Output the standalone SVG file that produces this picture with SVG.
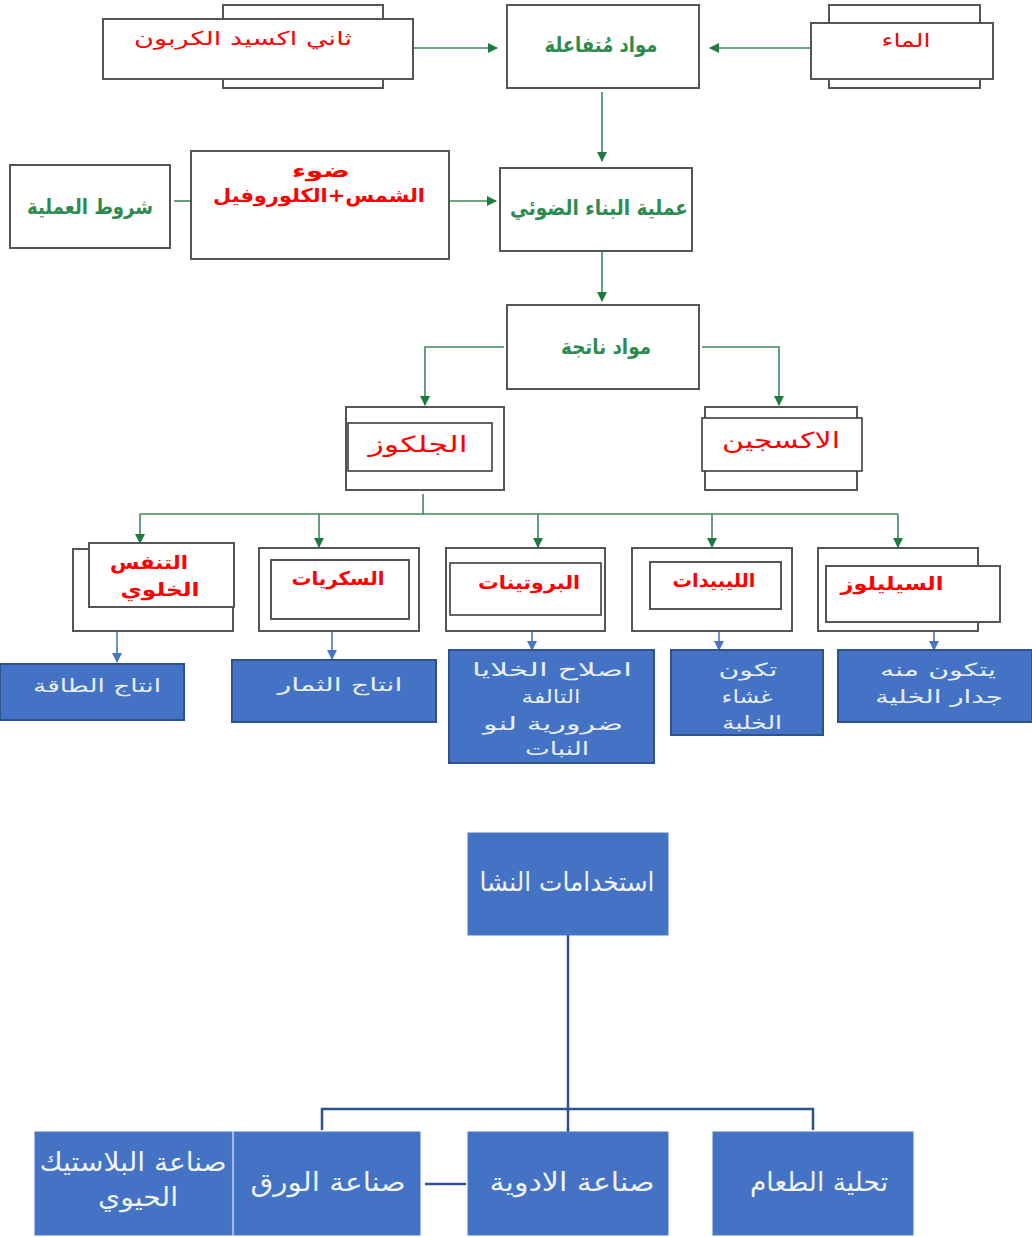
<svg xmlns="http://www.w3.org/2000/svg" width="1032" height="1237" viewBox="0 0 1032 1237">
<defs>
<style>
.box{fill:#fff;stroke:#555;stroke-width:2}
.inner{fill:#fff;stroke:#333;stroke-width:1.5}
.blue{fill:#4472c4;stroke:#2f528f;stroke-width:2}
.bluebig{fill:#4472c4;stroke:#4a76c6;stroke-width:1}
.g{stroke:#3c8a5a;stroke-width:1.6;fill:none}
.bl{stroke:#4a76c6;stroke-width:1.6;fill:none}
.db{stroke:#2f528f;stroke-width:2.5;fill:none}
text{font-family:"DejaVu Sans","Noto Sans",sans-serif;text-anchor:middle;direction:rtl}
.red{fill:#ff0000;font-size:19px}
.redb{fill:#ff0000;font-size:19px;font-weight:bold}
.grn{fill:#2e8b4f;font-size:21px;font-weight:bold}
.wh{fill:#e8eef8;font-size:18px}
.whl{fill:#f0f4fa;font-size:26px}
</style>
<marker id="ag" viewBox="0 0 10 10" refX="9" refY="5" markerWidth="10" markerHeight="10" markerUnits="userSpaceOnUse" orient="auto"><path d="M0,0 L10,5 L0,10 z" fill="#1f7a3e"/></marker>
<marker id="ab" viewBox="0 0 10 10" refX="9" refY="5" markerWidth="10" markerHeight="10" markerUnits="userSpaceOnUse" orient="auto"><path d="M0,0 L10,5 L0,10 z" fill="#4a76c6"/></marker>
</defs>
<rect width="1032" height="1237" fill="#fff"/>

<g id="connectors">
<line class="g" x1="413" y1="48" x2="497" y2="48" marker-end="url(#ag)"/>
<line class="g" x1="811" y1="48" x2="710" y2="48" marker-end="url(#ag)"/>
<line class="g" x1="602" y1="92" x2="602" y2="161" marker-end="url(#ag)"/>
<line class="g" x1="174" y1="201" x2="191" y2="201"/>
<line class="g" x1="449" y1="201" x2="496" y2="201" marker-end="url(#ag)"/>
<line class="g" x1="602" y1="252" x2="602" y2="301" marker-end="url(#ag)"/>
<polyline class="g" points="504,347 425,347 425,405" marker-end="url(#ag)"/>
<polyline class="g" points="702,347 779,347 779,405" marker-end="url(#ag)"/>
<line class="g" x1="423" y1="494" x2="423" y2="514"/>
<line class="g" x1="140" y1="514" x2="898" y2="514"/>
<line class="g" x1="140" y1="514" x2="140" y2="543" marker-end="url(#ag)"/>
<line class="g" x1="319" y1="514" x2="319" y2="547" marker-end="url(#ag)"/>
<line class="g" x1="538" y1="514" x2="538" y2="547" marker-end="url(#ag)"/>
<line class="g" x1="712" y1="514" x2="712" y2="547" marker-end="url(#ag)"/>
<line class="g" x1="898" y1="514" x2="898" y2="547" marker-end="url(#ag)"/>
<line class="bl" x1="117" y1="610" x2="117" y2="662" marker-end="url(#ab)"/>
<line class="bl" x1="332" y1="610" x2="332" y2="659" marker-end="url(#ab)"/>
<line class="bl" x1="532" y1="590" x2="532" y2="650" marker-end="url(#ab)"/>
<line class="bl" x1="719" y1="603" x2="719" y2="650" marker-end="url(#ab)"/>
<line class="bl" x1="934" y1="592" x2="934" y2="650" marker-end="url(#ab)"/>
<line class="db" x1="568" y1="935" x2="568" y2="1132"/>
<polyline class="db" points="322,1130 322,1109 813,1109 813,1130"/>
<line class="db" x1="425" y1="1184" x2="466" y2="1184"/>
</g>

<g id="co2">
<rect class="box" x="223" y="5" width="160" height="83"/>
<rect class="box" x="103" y="19" width="310" height="60"/>
<text class="red" x="243" y="45" textLength="218" lengthAdjust="spacingAndGlyphs">ثاني اكسيد الكربون</text>
</g>
<g id="reactants">
<rect class="box" x="507" y="5" width="192" height="83"/>
<text class="grn" x="601" y="52" textLength="113" lengthAdjust="spacingAndGlyphs">مواد مُتفاعلة</text>
</g>
<g id="water">
<rect class="box" x="829" y="5" width="151" height="83"/>
<rect class="box" x="811" y="23" width="182" height="56"/>
<text class="red" x="906" y="47" textLength="49" lengthAdjust="spacingAndGlyphs">الماء</text>
</g>
<g id="photosynthesis">
<rect class="box" x="500" y="168" width="192" height="83"/>
<text class="grn" x="599" y="215" textLength="178" lengthAdjust="spacingAndGlyphs">عملية البناء الضوئي</text>
</g>
<g id="conditions">
<rect class="box" x="10" y="165" width="160" height="83"/>
<text class="grn" x="90" y="214" textLength="126" lengthAdjust="spacingAndGlyphs">شروط العملية</text>
</g>
<g id="light">
<rect class="box" x="191" y="151" width="258" height="108"/>
<text class="redb" x="321" y="177" textLength="58" lengthAdjust="spacingAndGlyphs">ضوء</text>
<text class="redb" x="319" y="202" textLength="212" lengthAdjust="spacingAndGlyphs">الشمس+الكلوروفيل</text>
</g>
<g id="products">
<rect class="box" x="507" y="305" width="192" height="84"/>
<text class="grn" x="606" y="354" textLength="90" lengthAdjust="spacingAndGlyphs">مواد ناتجة</text>
</g>
<g id="glucose">
<rect class="box" x="346" y="407" width="158" height="83"/>
<rect class="inner" x="348" y="423" width="144" height="48"/>
<text class="red" x="418" y="452" style="font-size:22px" textLength="99" lengthAdjust="spacingAndGlyphs">الجلكوز</text>
</g>
<g id="oxygen">
<rect class="box" x="705" y="407" width="152" height="83"/>
<rect class="inner" x="702" y="418" width="160" height="53"/>
<text class="red" x="781" y="448" style="font-size:22px" textLength="118" lengthAdjust="spacingAndGlyphs">الاكسجين</text>
</g>

<g id="respiration">
<rect class="box" x="73" y="549" width="160" height="82"/>
<rect class="box" x="89" y="543" width="145" height="64"/>
<text class="redb" x="149" y="569" textLength="78" lengthAdjust="spacingAndGlyphs">التنفس</text>
<text class="redb" x="160" y="596" textLength="79" lengthAdjust="spacingAndGlyphs">الخلوي</text>
</g>
<g id="sugars">
<rect class="box" x="259" y="548" width="160" height="83"/>
<rect class="box" x="271" y="560" width="138" height="59"/>
<text class="redb" x="338" y="585" textLength="93" lengthAdjust="spacingAndGlyphs">السكريات</text>
</g>
<g id="proteins">
<rect class="box" x="446" y="548" width="159" height="83"/>
<rect class="inner" x="450" y="563" width="151" height="52"/>
<text class="redb" x="529" y="589" textLength="102" lengthAdjust="spacingAndGlyphs">البروتينات</text>
</g>
<g id="lipids">
<rect class="box" x="632" y="548" width="160" height="83"/>
<rect class="box" x="650" y="562" width="131" height="47"/>
<text class="redb" x="714" y="587" textLength="83" lengthAdjust="spacingAndGlyphs">الليبيدات</text>
</g>
<g id="cellulose">
<rect class="box" x="818" y="548" width="160" height="83"/>
<rect class="box" x="826" y="566" width="174" height="56"/>
<text class="redb" x="892" y="590" textLength="103" lengthAdjust="spacingAndGlyphs">السيليلوز</text>
</g>

<g id="energy">
<rect class="blue" x="0" y="664" width="184" height="56"/>
<text class="wh" x="97" y="692" textLength="128" lengthAdjust="spacingAndGlyphs">انتاج الطاقة</text>
</g>
<g id="fruits">
<rect class="blue" x="232" y="660" width="204" height="62"/>
<text class="wh" x="340" y="691" textLength="125" lengthAdjust="spacingAndGlyphs">انتاج الثمار</text>
</g>
<g id="repair">
<rect class="blue" x="449" y="650" width="205" height="113"/>
<text class="wh" x="552" y="676" textLength="160" lengthAdjust="spacingAndGlyphs">اصلاح الخلايا</text>
<text class="wh" x="551" y="703" textLength="59" lengthAdjust="spacingAndGlyphs">التالفة</text>
<text class="wh" x="553" y="730" textLength="140" lengthAdjust="spacingAndGlyphs">ضرورية لنو</text>
<text class="wh" x="557" y="755" textLength="64" lengthAdjust="spacingAndGlyphs">النبات</text>
</g>
<g id="membrane">
<rect class="blue" x="671" y="650" width="152" height="85"/>
<text class="wh" x="748" y="676" textLength="59" lengthAdjust="spacingAndGlyphs">تكون</text>
<text class="wh" x="747" y="703" textLength="51" lengthAdjust="spacingAndGlyphs">غشاء</text>
<text class="wh" x="752" y="729" textLength="60" lengthAdjust="spacingAndGlyphs">الخلبة</text>
</g>
<g id="wall">
<rect class="blue" x="838" y="650" width="194" height="72"/>
<text class="wh" x="938" y="676" textLength="116" lengthAdjust="spacingAndGlyphs">يتكون منه</text>
<text class="wh" x="939" y="703" textLength="128" lengthAdjust="spacingAndGlyphs">جدار الخلية</text>
</g>

<g id="starch">
<rect class="bluebig" x="468" y="833" width="200" height="102"/>
<text class="whl" x="567" y="891" textLength="175" lengthAdjust="spacingAndGlyphs">استخدامات النشا</text>
</g>
<g id="plastic">
<rect class="bluebig" x="35" y="1132" width="197" height="103"/>
<text class="whl" x="133" y="1171" textLength="187" lengthAdjust="spacingAndGlyphs">صناعة البلاستيك</text>
<text class="whl" x="138" y="1206" textLength="80" lengthAdjust="spacingAndGlyphs">الحيوي</text>
</g>
<g id="paper">
<rect class="bluebig" x="234" y="1132" width="186" height="103"/>
<text class="whl" x="328" y="1191" textLength="155" lengthAdjust="spacingAndGlyphs">صناعة الورق</text>
</g>
<g id="medicine">
<rect class="bluebig" x="468" y="1132" width="200" height="103"/>
<text class="whl" x="572" y="1191" textLength="165" lengthAdjust="spacingAndGlyphs">صناعة الادوية</text>
</g>
<g id="sweetening">
<rect class="bluebig" x="713" y="1132" width="200" height="103"/>
<text class="whl" x="819" y="1191" textLength="138" lengthAdjust="spacingAndGlyphs">تحلية الطعام</text>
</g>
</svg>
